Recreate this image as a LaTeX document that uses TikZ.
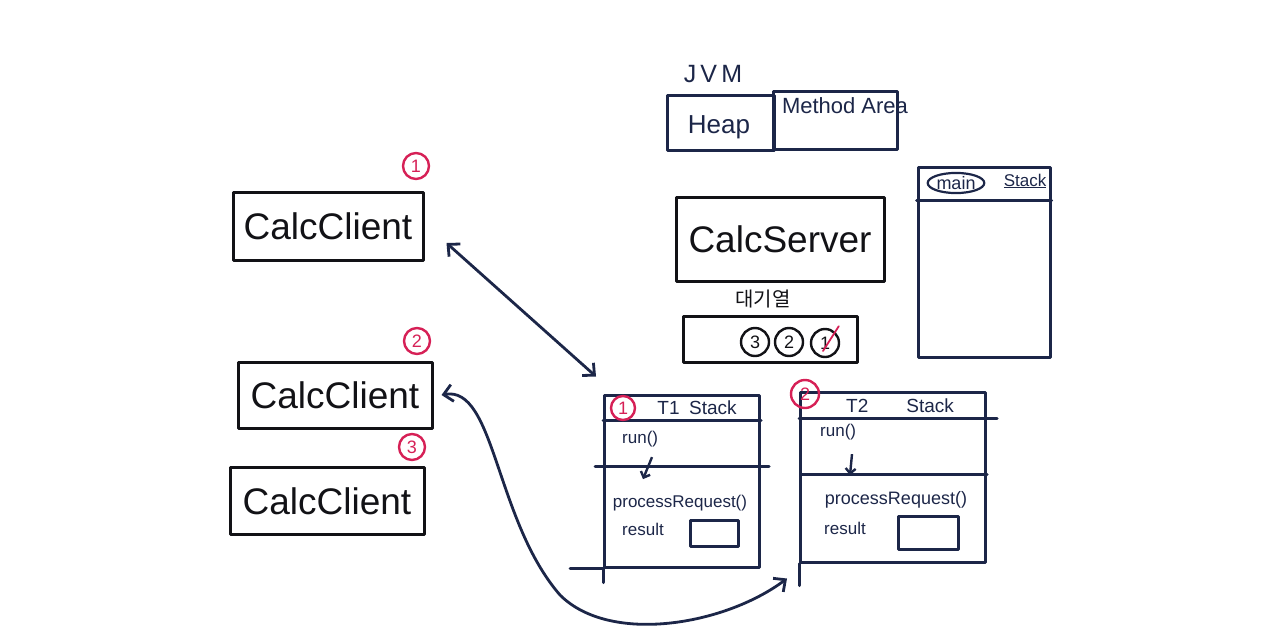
\documentclass[tikz,border=0pt]{standalone}
\usepackage{fontspec}
\setmainfont{Liberation Sans}
\newfontfamily\krfont{Noto Sans CJK KR}
\usetikzlibrary{arrows.meta,shapes.geometric,calc}
\definecolor{navy}{RGB}{28,38,72}
\definecolor{ink}{RGB}{18,18,22}
\definecolor{pinkred}{RGB}{214,32,86}
\begin{document}
\begin{tikzpicture}[x=1pt,y=-1pt,
  ln/.style={line width=3pt, line cap=round, line join=round},
  clientbox/.style={ln, draw=ink, text=ink, minimum width=190pt, minimum height=68pt, inner sep=0pt, font=\fontsize{37}{40}\selectfont},
  navybox/.style={ln, draw=navy, text=navy, inner sep=0pt},
  redmark/.style={circle, draw=pinkred, text=pinkred, line width=2.4pt, minimum size=26pt, inner sep=0pt, font=\fontsize{18}{19}\selectfont},
  qcircle/.style={circle, draw=ink, text=ink, line width=2.4pt, minimum size=28pt, inner sep=0pt, font=\fontsize{18}{19}\selectfont},
  lbl/.style={text=navy, inner sep=0pt, font=\fontsize{17}{19}\selectfont},
  barb/.style={{Straight Barb[length=9pt,width=17pt]}-{Straight Barb[length=9pt,width=17pt]}}
]
\useasboundingbox (0,0) rectangle (1280,635);

% clients
\node[clientbox] (c1) at (328,226) {CalcClient};
\node[clientbox, minimum width=194pt, minimum height=66pt] (c2) at (335,395) {CalcClient};
\node[clientbox, minimum width=194pt, minimum height=67pt] (c3) at (327,501) {CalcClient};
\node[redmark] (r1) at (416,166) {1};
\node[redmark] (r2) at (417,341) {2};
\node[redmark] (r3) at (412,447) {3};

% JVM
\node[text=navy, font=\fontsize{25}{27}\selectfont] (jvm) at (713,74) {J\,V\,M};
\node[navybox, minimum width=107pt, minimum height=55pt] (heap) at (721,123) {};
\node[text=navy, font=\fontsize{26}{28}\selectfont] (heapt) at (719,127) {Heap};
\node[navybox, minimum width=124pt, minimum height=58pt] (ma) at (835,120) {};
\node[text=navy, font=\fontsize{22}{24}\selectfont] (mat) at (845,106) {Method Area};

% server
\node[ln, draw=ink, text=ink, minimum width=208pt, minimum height=84pt, inner sep=0pt, font=\fontsize{37}{40}\selectfont] (srv) at (780,239) {CalcServer};

% queue
\node[text=ink, font=\krfont\fontsize{20}{22}\selectfont] (qlbl) at (763,299) {대기열};
\node[ln, draw=ink, minimum width=174pt, minimum height=46pt, inner sep=0pt] (queue) at (770,339) {};
\node[qcircle] (q3) at (755,342) {3};
\node[qcircle] (q2) at (789,342) {2};
\node[qcircle] (q1) at (825,343) {1};
\draw[pinkred, line width=1.8pt, line cap=round] (q1.center) ++(-2,8) -- ($(q1.north east)+(3,-6)$);

% main stack
\node[navybox, minimum width=132pt, minimum height=190pt] (ms) at (984,262) {};
\draw[ln, navy] ([yshift=-35pt]ms.north west) -- ([yshift=-35pt]ms.north east);
\node[ellipse, draw=navy, line width=2.2pt, text=navy, inner sep=0.5pt, font=\fontsize{18}{19}\selectfont] (mainl) at (956,183) {main};
\node[lbl, font=\fontsize{17}{18}\selectfont] (msl) at (1025,181) {\underline{Stack}};

% T1 stack
\node[navybox, minimum width=155pt, minimum height=172pt] (t1) at (682,481) {};
\draw[ln, navy] ([yshift=-27pt]t1.north west) -- ([yshift=-27pt]t1.north east);
\draw[ln, navy] ([xshift=-8pt,yshift=-73pt]t1.north west) -- ([xshift=8pt,yshift=-73pt]t1.north east);
\draw[ln, navy] ([xshift=-33pt]t1.south west) -- (t1.south west) -- ([yshift=-14pt]t1.south west);
\node[redmark, minimum size=24pt] (t1m) at (623,408) {1};
\node[lbl, font=\fontsize{19}{21}\selectfont] (t1h) at (697,408) {T1\enspace Stack};
\node[lbl, anchor=west] (t1run) at (622,439) {run()};
\node[lbl] (t1pr) at (680,503) {processRequest()};
\node[lbl, anchor=west] (t1res) at (622,529) {result};
\node[ln, draw=navy, minimum width=48pt, minimum height=26pt, inner sep=0pt] (t1box) at (714,533) {};
\draw[navy, line width=2.4pt, -{Straight Barb[length=5pt,width=10pt]}] ($(t1run.south west)+(30,10)$) -- ($(t1run.south west)+(21,32)$);

% T2 stack
\node[navybox, minimum width=185pt, minimum height=170pt] (t2) at (893,477) {};
\draw[ln, navy] ([yshift=-28pt]t2.north west) -- ([xshift=10pt,yshift=-28pt]t2.north east);
\draw[ln, navy] ([xshift=3pt,yshift=-84pt]t2.north west) -- ([yshift=-84pt]t2.north east);
\draw[ln, navy] (t2.south west) -- ([yshift=-22pt]t2.south west);
\node[redmark, minimum size=28pt] (t2m) at (805,394) {2};
\node[lbl, font=\fontsize{19}{21}\selectfont] (t2h) at (900,406) {T2\qquad Stack};
\node[lbl, anchor=west] (t2run) at (820,432) {run()};
\node[lbl, font=\fontsize{18}{20}\selectfont] (t2pr) at (896,500) {processRequest()};
\node[lbl, anchor=west] (t2res) at (824,528) {result};
\node[ln, draw=navy, minimum width=60pt, minimum height=33pt, inner sep=0pt] (t2box) at (928,533) {};
\draw[navy, line width=2.4pt, -{Straight Barb[length=5pt,width=10pt]}] ($(t2run.south west)+(32,14)$) -- ($(t2run.south west)+(30,35)$);

% connectors
\draw[navy, line width=2.8pt, barb] ($(c1.east)+(22,17)$) -- ($(t1.north west)+(-7,-17)$);
\draw[navy, line width=2.8pt, barb] ($(c2.east)+(8,0)$) .. controls (495,385) and (495,520) .. (560,595) .. controls (610,645) and (725,625) .. ($(t2.south west)+(-12,15)$);
\end{tikzpicture}
\end{document}
